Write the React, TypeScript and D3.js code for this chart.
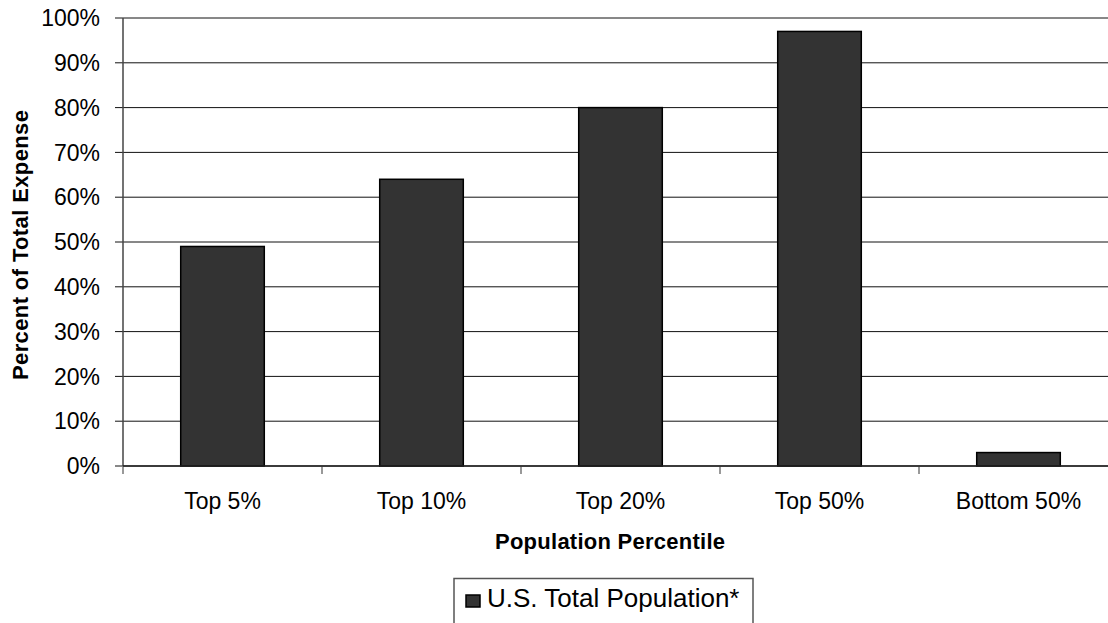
import React from "react";
import * as d3 from "d3";

const categories = ["Top 5%", "Top 10%", "Top 20%", "Top 50%", "Bottom 50%"];
const values = [49, 64, 80, 97, 3];
const yTicks = [0, 10, 20, 30, 40, 50, 60, 70, 80, 90, 100];
const seriesName = "U.S. Total Population*";

const W = 1108;
const H = 623;
const plot = { left: 123, right: 1118, top: 18, bottom: 466 };

export default function App() {
  const x = d3
    .scaleBand<string>()
    .domain(categories)
    .range([plot.left, plot.right])
    .paddingInner(0.58)
    .paddingOuter(0.29);
  const y = d3.scaleLinear().domain([0, 100]).range([plot.bottom, plot.top]);
  const step = x.step();
  const font = "'Liberation Sans', Arial, sans-serif";

  return (
    <svg
      width={W}
      height={H}
      style={{ position: "absolute", left: 0, top: 0, background: "#fff" }}
      fontFamily={font}
    >
      {/* gridlines and y ticks */}
      {yTicks.map((t) => (
        <g key={t}>
          <line x1={plot.left - 8} x2={W} y1={y(t)} y2={y(t)} stroke="#111" strokeWidth={1} />
          <text x={plot.left - 23} y={y(t)} dy="0.36em" textAnchor="end" fontSize={23} fill="#000">
            {t}%
          </text>
        </g>
      ))}
      {/* y axis */}
      <line x1={plot.left} x2={plot.left} y1={plot.top} y2={plot.bottom} stroke="#444" strokeWidth={1.5} />
      {/* category separators */}
      {categories.map((c, i) => {
        const cx = plot.left + i * step;
        return (
          <line key={c} x1={cx} x2={cx} y1={plot.bottom} y2={plot.bottom + 8} stroke="#777" strokeWidth={1.5} />
        );
      })}
      {/* bars */}
      {categories.map((c, i) => (
        <rect
          key={c}
          x={x(c)!}
          y={y(values[i])}
          width={x.bandwidth()}
          height={y(0) - y(values[i])}
          fill="#333333"
          stroke="#000"
          strokeWidth={1.5}
        />
      ))}
      {/* x axis baseline */}
      <line x1={plot.left} x2={W} y1={plot.bottom} y2={plot.bottom} stroke="#222" strokeWidth={1.5} />
      {/* category labels */}
      {categories.map((c) => (
        <text key={c} x={x(c)! + x.bandwidth() / 2} y={509} textAnchor="middle" fontSize={23} fill="#000">
          {c}
        </text>
      ))}
      {/* axis titles */}
      <text
        x={610}
        y={549}
        textAnchor="middle"
        fontSize={22}
        fontWeight="bold"
        fill="#000"
        textLength={230}
        lengthAdjust="spacing"
      >
        Population Percentile
      </text>
      <text
        transform={`translate(27.5, 245) rotate(-90)`}
        textAnchor="middle"
        fontSize={22}
        fontWeight="bold"
        fill="#000"
        textLength={270}
        lengthAdjust="spacing"
      >
        Percent of Total Expense
      </text>
      {/* legend */}
      <rect x={454} y={578.5} width={299} height={50} fill="#fff" stroke="#555" strokeWidth={1.5} />
      <rect x={466} y={595} width={14} height={12} fill="#333333" stroke="#000" strokeWidth={1.5} />
      <text x={487} y={607} fontSize={26} fill="#000">
        {seriesName}
      </text>
    </svg>
  );
}
